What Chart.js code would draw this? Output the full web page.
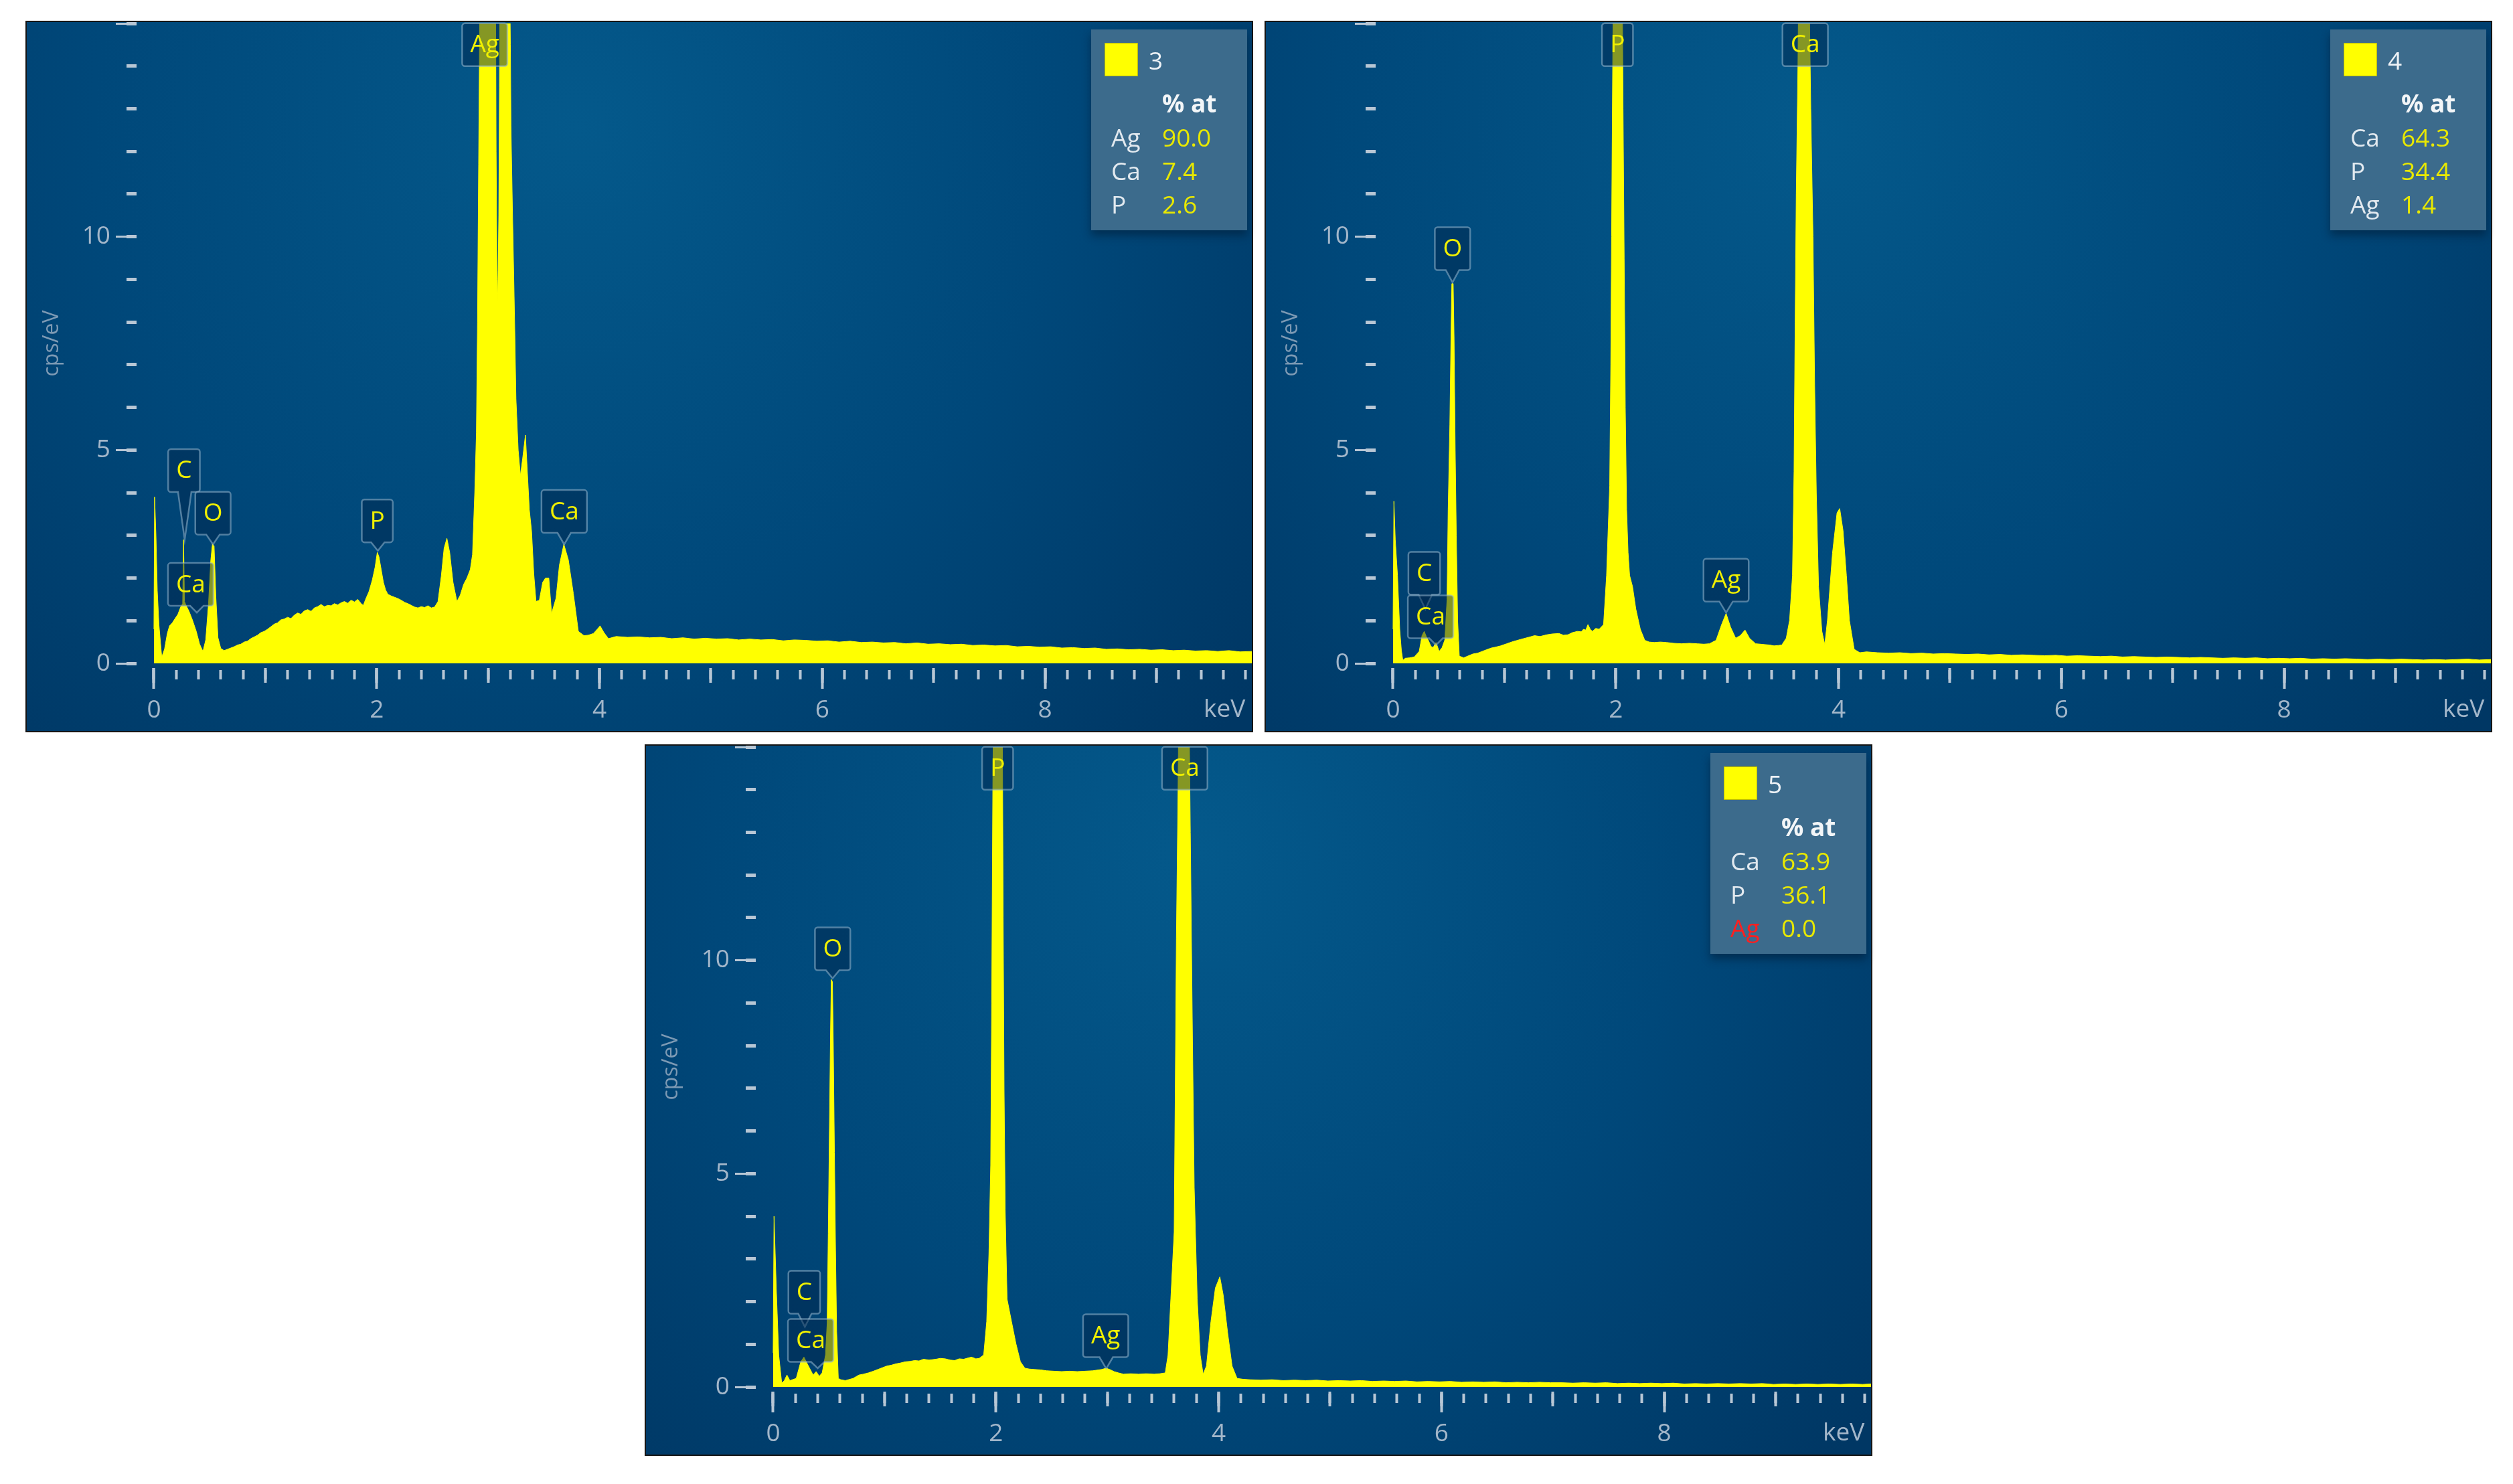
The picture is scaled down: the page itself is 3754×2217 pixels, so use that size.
<!DOCTYPE html>
<html>
<head>
<meta charset="utf-8">
<title>EDS spectra 3, 4, 5</title>
<script src="https://cdn.jsdelivr.net/npm/chart.js@4.4.1/dist/chart.umd.min.js"></script>
<style>
  body { margin: 0; width: 3754px; height: 2217px; background: #fff; position: relative; overflow: hidden; }
  .panel { position: absolute; width: 1830px; height: 1059px; border: 2px solid #151515; }
  .panel canvas { display: block; }
  .legend { position: absolute; left: 1590px; top: 11px; width: 233px; height: 300px; background: #3c6b8c;
    box-shadow: 0 8px 12px rgba(0, 20, 40, 0.45); font-family: 'Open Sans', sans-serif; color: #e2e9ef; }
  .legend div { position: absolute; font-size: 37px; line-height: 44px; white-space: nowrap; }
  .legend .swatch { left: 20px; top: 20px; width: 48px; height: 48px; background: #ffff00; border: 1px solid #b8b800; }
  .legend .id { left: 86px; top: 24px; color: #eef2f6; }
  .legend .head { left: 106px; top: 88px; font-weight: bold; color: #f3f6f8; }
  .legend .el { left: 30px; }
  .legend .val { left: 106px; color: #e8e800; }
</style>
</head>
<body>
<div class="panel" style="left:38px;top:31px"><canvas id="spec3" width="1830" height="1059"></canvas><div class="legend" id="legend3"></div></div>
<div class="panel" style="left:1889px;top:31px"><canvas id="spec4" width="1830" height="1059"></canvas><div class="legend" id="legend4"></div></div>
<div class="panel" style="left:963px;top:1112px"><canvas id="spec5" width="1830" height="1059"></canvas><div class="legend" id="legend5"></div></div>
<script>
const FONT = "'Open Sans', 'Noto Sans', sans-serif";
const YELLOW = '#ffff00';
const X_MIN = -0.156;
const X_MAX = 9.856;
const Y_MAX = 15;

// spectrum 3 (keV, cps/eV)
const kev3 = [
  0, 0.006, 0.018, 0.03, 0.045, 0.07, 0.095, 0.12, 0.14, 0.165,
  0.19, 0.215, 0.24, 0.258, 0.266, 0.274, 0.29, 0.315, 0.345, 0.38,
  0.41, 0.44, 0.465, 0.49, 0.51, 0.525, 0.54, 0.555, 0.575, 0.6,
  0.63, 0.66, 0.69, 0.72, 0.75, 0.78, 0.81, 0.84, 0.87, 0.9,
  0.93, 0.96, 0.99, 1.02, 1.05, 1.08, 1.11, 1.14, 1.17, 1.2,
  1.23, 1.26, 1.29, 1.32, 1.35, 1.38, 1.41, 1.44, 1.47, 1.5,
  1.53, 1.56, 1.59, 1.62, 1.65, 1.68, 1.71, 1.74, 1.77, 1.8,
  1.83, 1.86, 1.88, 1.9, 1.93, 1.96, 1.985, 2.005, 2.02, 2.04,
  2.06, 2.08, 2.1, 2.13, 2.16, 2.19, 2.22, 2.25, 2.28, 2.31,
  2.34, 2.37, 2.4, 2.43, 2.46, 2.49, 2.52, 2.55, 2.58, 2.605,
  2.63, 2.655, 2.685, 2.72, 2.75, 2.78, 2.81, 2.84, 2.86, 2.88,
  2.895, 2.905, 2.915, 2.93, 3.065, 3.072, 3.08, 3.085, 3.09, 3.096,
  3.102, 3.108, 3.19, 3.2, 3.205, 3.22, 3.23, 3.24, 3.25, 3.27,
  3.29, 3.31, 3.335, 3.35, 3.37, 3.39, 3.41, 3.43, 3.46, 3.49,
  3.515, 3.545, 3.57, 3.61, 3.64, 3.68, 3.72, 3.765, 3.81, 3.86,
  3.9, 3.945, 3.98, 4.005, 4.04, 4.08, 4.15, 4.25, 4.35, 4.45,
  4.55, 4.65, 4.75, 4.85, 4.95, 5.05, 5.15, 5.25, 5.35, 5.45,
  5.55, 5.65, 5.75, 5.85, 5.95, 6.05, 6.15, 6.25, 6.35, 6.45,
  6.55, 6.65, 6.75, 6.85, 6.95, 7.05, 7.15, 7.25, 7.35, 7.45,
  7.55, 7.65, 7.75, 7.85, 7.95, 8.05, 8.15, 8.25, 8.35, 8.45,
  8.55, 8.65, 8.75, 8.85, 8.95, 9.05, 9.15, 9.25, 9.35, 9.45,
  9.55, 9.65, 9.75, 9.86
];
const cps3 = [
  0.8, 3.9, 3.0, 1.7, 0.9, 0.15, 0.33, 0.7, 0.88, 0.95,
  1.05, 1.15, 1.32, 1.4, 2.9, 1.45, 1.35, 1.22, 1.02, 0.75,
  0.45, 0.28, 0.55, 1.4, 2.4, 2.8, 2.75, 1.6, 0.6, 0.35,
  0.3, 0.33, 0.36, 0.39, 0.43, 0.45, 0.5, 0.52, 0.58, 0.62,
  0.66, 0.72, 0.75, 0.8, 0.86, 0.92, 0.95, 1.02, 1.04, 1.08,
  1.05, 1.13, 1.18, 1.15, 1.23, 1.26, 1.22, 1.3, 1.33, 1.38,
  1.33, 1.36, 1.35, 1.4, 1.37, 1.42, 1.45, 1.41, 1.48, 1.44,
  1.5, 1.4, 1.36, 1.5, 1.68, 1.95, 2.25, 2.6, 2.5, 2.2,
  1.9, 1.72, 1.62, 1.58, 1.55, 1.52, 1.48, 1.43, 1.4, 1.36,
  1.32, 1.3, 1.33, 1.31, 1.35, 1.3, 1.32, 1.45, 2.05, 2.7,
  2.93, 2.6, 1.9, 1.45, 1.6, 1.85, 2.0, 2.2, 2.55, 4.0,
  5.4, 8.0, 11.7, 17, 17, 12.0, 9.0, 8.5, 9.2, 10.5,
  13.5, 17, 17, 14.5, 12.6, 10.4, 9.1, 7.7, 6.2, 5.0,
  4.4, 4.8, 5.35, 4.6, 3.6, 3.1, 2.1, 1.45, 1.48, 1.9,
  2.0, 2.0, 1.17, 1.53, 2.3, 2.79, 2.43, 1.64, 0.75, 0.65,
  0.66, 0.7, 0.8, 0.88, 0.72, 0.58, 0.63, 0.61, 0.62, 0.6,
  0.61, 0.58, 0.6, 0.57, 0.59, 0.57, 0.58, 0.55, 0.57, 0.55,
  0.56, 0.53, 0.55, 0.54, 0.52, 0.53, 0.5, 0.52, 0.49, 0.5,
  0.48, 0.49, 0.46, 0.48, 0.45, 0.46, 0.44, 0.45, 0.42, 0.43,
  0.41, 0.42, 0.39, 0.4, 0.38, 0.39, 0.36, 0.37, 0.35, 0.36,
  0.33, 0.34, 0.32, 0.33, 0.31, 0.32, 0.3, 0.31, 0.29, 0.3,
  0.28, 0.3, 0.27, 0.28
];

// spectrum 4
const kev4 = [
  0, 0.008, 0.02, 0.04, 0.06, 0.075, 0.088, 0.11, 0.15, 0.19,
  0.235, 0.26, 0.28, 0.3, 0.317, 0.34, 0.36, 0.386, 0.414, 0.44,
  0.465, 0.485, 0.495, 0.51, 0.52, 0.528, 0.54, 0.548, 0.558, 0.568,
  0.58, 0.595, 0.634, 0.68, 0.717, 0.76, 0.8, 0.84, 0.883, 0.92,
  0.966, 1.02, 1.076, 1.13, 1.186, 1.23, 1.27, 1.32, 1.38, 1.43,
  1.49, 1.53, 1.57, 1.61, 1.655, 1.69, 1.71, 1.73, 1.75, 1.77,
  1.79, 1.82, 1.85, 1.89, 1.917, 1.945, 1.955, 1.962, 1.972, 1.98,
  2.055, 2.065, 2.075, 2.085, 2.097, 2.11, 2.124, 2.15, 2.18, 2.22,
  2.26, 2.3, 2.345, 2.4, 2.455, 2.52, 2.59, 2.66, 2.73, 2.79,
  2.84, 2.9, 2.95, 2.99, 3.03, 3.076, 3.117, 3.16, 3.2, 3.255,
  3.3, 3.34, 3.38, 3.42, 3.46, 3.49, 3.53, 3.56, 3.586, 3.6,
  3.61, 3.62, 3.635, 3.645, 3.73, 3.75, 3.77, 3.785, 3.8, 3.82,
  3.85, 3.876, 3.9, 3.945, 3.986, 4.01, 4.04, 4.07, 4.097, 4.14,
  4.19, 4.25, 4.35, 4.45, 4.55, 4.65, 4.75, 4.85, 4.95, 5.05,
  5.15, 5.25, 5.35, 5.45, 5.55, 5.65, 5.75, 5.85, 5.95, 6.05,
  6.15, 6.25, 6.35, 6.45, 6.55, 6.65, 6.75, 6.85, 6.95, 7.05,
  7.15, 7.25, 7.35, 7.45, 7.55, 7.65, 7.75, 7.85, 7.95, 8.05,
  8.15, 8.25, 8.35, 8.45, 8.55, 8.65, 8.75, 8.85, 8.95, 9.05,
  9.15, 9.25, 9.35, 9.45, 9.55, 9.65, 9.75, 9.86
];
const cps4 = [
  0.8, 3.8, 2.9, 2.06, 0.8, 0.3, 0.07, 0.12, 0.13, 0.15,
  0.28, 0.65, 0.75, 0.62, 0.54, 0.4, 0.37, 0.49, 0.28, 0.37,
  0.55, 1.5, 3.6, 5.6, 7.6, 8.9, 8.9, 7.6, 5.0, 3.0,
  1.0, 0.17, 0.13, 0.18, 0.22, 0.24, 0.28, 0.32, 0.36, 0.38,
  0.41, 0.46, 0.51, 0.55, 0.59, 0.62, 0.65, 0.63, 0.67, 0.69,
  0.7, 0.66, 0.67, 0.72, 0.75, 0.74, 0.8, 0.78, 0.91, 0.8,
  0.75, 0.82, 0.8, 0.91, 2.06, 4.16, 7.0, 10.0, 14.0, 17,
  17, 13, 9.5, 6.0, 3.6, 2.6, 2.06, 1.8, 1.27, 0.8,
  0.54, 0.5, 0.49, 0.5, 0.49, 0.47, 0.46, 0.47, 0.46, 0.45,
  0.46, 0.54, 0.91, 1.17, 0.85, 0.59, 0.65, 0.78, 0.59, 0.46,
  0.45, 0.44, 0.43, 0.41, 0.42, 0.43, 0.59, 1.01, 2.06, 4.5,
  8.0, 11.0, 14.0, 17, 17, 13, 10, 6.5, 4.0, 1.8,
  0.75, 0.44, 1.01, 2.58, 3.53, 3.63, 3.11, 2.06, 1.01, 0.33,
  0.25, 0.27, 0.25, 0.24, 0.25, 0.23, 0.24, 0.22, 0.23, 0.22,
  0.21, 0.22, 0.2, 0.21, 0.19, 0.2, 0.19, 0.18, 0.19, 0.17,
  0.18, 0.17, 0.16, 0.17, 0.15, 0.16, 0.15, 0.14, 0.15, 0.14,
  0.13, 0.14, 0.13, 0.12, 0.13, 0.12, 0.13, 0.11, 0.12, 0.11,
  0.12, 0.1, 0.11, 0.1, 0.11, 0.1, 0.09, 0.1, 0.09, 0.1,
  0.09, 0.08, 0.09, 0.08, 0.09, 0.1, 0.08, 0.09
];

// spectrum 5
const kev5 = [
  0, 0.008, 0.028, 0.05, 0.077, 0.1, 0.124, 0.15, 0.207, 0.248,
  0.276, 0.317, 0.359, 0.386, 0.414, 0.44, 0.47, 0.485, 0.495, 0.505,
  0.515, 0.522, 0.532, 0.54, 0.55, 0.56, 0.57, 0.585, 0.607, 0.648,
  0.717, 0.77, 0.81, 0.855, 0.9, 0.94, 0.98, 1.02, 1.06, 1.1,
  1.14, 1.186, 1.23, 1.27, 1.31, 1.35, 1.4, 1.46, 1.5, 1.545,
  1.59, 1.63, 1.67, 1.71, 1.75, 1.78, 1.82, 1.85, 1.89, 1.917,
  1.937, 1.953, 1.962, 1.972, 1.98, 2.055, 2.065, 2.073, 2.083, 2.1,
  2.14, 2.18, 2.22, 2.26, 2.3, 2.345, 2.4, 2.455, 2.52, 2.59,
  2.66, 2.73, 2.8, 2.87, 2.95, 2.99, 3.03, 3.06, 3.1, 3.145,
  3.21, 3.28, 3.35, 3.42, 3.47, 3.52, 3.545, 3.57, 3.6, 3.61,
  3.62, 3.635, 3.645, 3.73, 3.745, 3.765, 3.78, 3.807, 3.834, 3.86,
  3.89, 3.93, 3.97, 4.01, 4.04, 4.08, 4.12, 4.165, 4.22, 4.28,
  4.38, 4.48, 4.58, 4.68, 4.78, 4.88, 4.98, 5.08, 5.18, 5.28,
  5.38, 5.48, 5.58, 5.68, 5.78, 5.88, 5.98, 6.08, 6.18, 6.28,
  6.38, 6.48, 6.58, 6.68, 6.78, 6.88, 6.98, 7.08, 7.18, 7.28,
  7.38, 7.48, 7.58, 7.68, 7.78, 7.88, 7.98, 8.08, 8.18, 8.28,
  8.38, 8.48, 8.58, 8.68, 8.78, 8.88, 8.98, 9.08, 9.18, 9.28,
  9.38, 9.48, 9.58, 9.68, 9.78, 9.86
];
const cps5 = [
  0.8, 4.0, 2.32, 0.75, 0.09, 0.15, 0.28, 0.15, 0.2, 0.59,
  0.7, 0.49, 0.28, 0.36, 0.25, 0.33, 0.75, 1.5, 3.6, 6.0,
  8.3, 9.55, 9.5, 8.0, 5.5, 3.2, 1.3, 0.2, 0.17, 0.15,
  0.2, 0.28, 0.3, 0.33, 0.37, 0.41, 0.45, 0.49, 0.51, 0.54,
  0.56, 0.59, 0.6, 0.62, 0.61, 0.65, 0.63, 0.65, 0.67, 0.66,
  0.63, 0.62, 0.66, 0.65, 0.68, 0.7, 0.66, 0.67, 0.75, 1.53,
  3.11, 5.2, 9.0, 14.0, 17, 17, 11, 7, 4.16, 2.06,
  1.53, 1.01, 0.59, 0.44, 0.42, 0.41, 0.4, 0.38, 0.37, 0.36,
  0.37, 0.36, 0.37, 0.38, 0.41, 0.44, 0.4, 0.36, 0.33, 0.3,
  0.31, 0.3, 0.31, 0.3, 0.31, 0.33, 0.75, 2.06, 3.63, 7.0,
  10.5, 14.0, 17, 17, 13, 8, 4.68, 2.06, 0.75, 0.3,
  0.49, 1.53, 2.32, 2.58, 2.16, 1.27, 0.49, 0.2, 0.18, 0.17,
  0.16, 0.17, 0.15, 0.16, 0.15, 0.16, 0.14, 0.15, 0.14, 0.15,
  0.13, 0.14, 0.13, 0.14, 0.12, 0.13, 0.12, 0.13, 0.11, 0.12,
  0.11, 0.12, 0.1, 0.11, 0.1, 0.11, 0.1, 0.1, 0.09, 0.1,
  0.09, 0.1, 0.08, 0.09, 0.08, 0.09, 0.08, 0.09, 0.07, 0.08,
  0.07, 0.08, 0.07, 0.08, 0.07, 0.08, 0.06, 0.07, 0.06, 0.07,
  0.06, 0.07, 0.06, 0.07, 0.06, 0.07
];

// peak markers: box centre (keV, cps/eV) and pointer tip
const peaks3 = ['C', 'O', 'Ca', 'P', 'Ca', 'Ag'];
const peaks3Kev = [0.27, 0.53, 0.33, 2.005, 3.683, 2.97];
const peaks3Level = [4.52, 3.52, 1.85, 3.34, 3.56, 14.5];
const peaks3TipKev = [0.276, 0.53, 0.385, 2.01, 3.683, null];
const peaks3TipLevel = [2.9, 2.79, 1.19, 2.64, 2.79, null];

const peaks4 = ['P', 'Ca', 'O', 'C', 'Ca', 'Ag'];
const peaks4Kev = [2.015, 3.7, 0.534, 0.28, 0.337, 2.99];
const peaks4Level = [14.5, 14.5, 9.72, 2.11, 1.09, 1.95];
const peaks4TipKev = [null, null, 0.534, 0.29, 0.386, 2.99];
const peaks4TipLevel = [null, null, 8.93, 1.27, 0.43, 1.19];

const peaks5 = ['P', 'Ca', 'O', 'C', 'Ca', 'Ag'];
const peaks5Kev = [2.015, 3.695, 0.534, 0.279, 0.337, 2.985];
const peaks5Level = [14.5, 14.5, 10.27, 2.22, 1.09, 1.2];
const peaks5TipKev = [null, null, 0.534, 0.285, 0.4, 2.99];
const peaks5TipLevel = [null, null, 9.58, 1.41, 0.44, 0.43];

// quantification, % at
const legend3Els = ['Ag', 'Ca', 'P'];
const legend3Pct = [90.0, 7.4, 2.6];
const legend4Els = ['Ca', 'P', 'Ag'];
const legend4Pct = [64.3, 34.4, 1.4];
const legend5Els = ['Ca', 'P', 'Ag'];
const legend5Pct = [63.9, 36.1, 0.0];

const panelBackground = {
  id: 'panelBackground',
  beforeDraw(chart) {
    const { ctx, width, height } = chart;
    const g = ctx.createRadialGradient(width * 0.45, height * 0.15, 0, width * 0.45, height * 0.15, width * 0.72);
    g.addColorStop(0, '#04598b');
    g.addColorStop(0.55, '#00487a');
    g.addColorStop(1, '#003764');
    ctx.save();
    ctx.fillStyle = g;
    ctx.fillRect(0, 0, width, height);
    ctx.restore();
  }
};

function peakLabelPlugin(labels) {
  return {
    id: 'peakLabels',
    afterDatasetsDraw(chart) {
      const { ctx, scales: { x, y } } = chart;
      ctx.save();
      ctx.font = `37px ${FONT}`;
      ctx.textAlign = 'center';
      ctx.textBaseline = 'middle';
      labels.forEach(l => {
        const cx = x.getPixelForValue(l.kev);
        const cy = y.getPixelForValue(l.level);
        const w = ctx.measureText(l.name).width + 24;
        const h = 64;
        const left = cx - w / 2, right = cx + w / 2, top = cy - h / 2, bottom = cy + h / 2;
        const r = 4, hw = 10;
        ctx.beginPath();
        ctx.moveTo(left + r, top);
        ctx.arcTo(right, top, right, bottom, r);
        ctx.arcTo(right, bottom, left, bottom, r);
        if (l.tipKev != null) {
          const tx = x.getPixelForValue(l.tipKev);
          const ty = y.getPixelForValue(l.tipLevel);
          const bx = Math.min(Math.max(tx, left + hw + r), right - hw - r);
          ctx.lineTo(bx + hw, bottom);
          ctx.lineTo(tx, ty);
          ctx.lineTo(bx - hw, bottom);
        }
        ctx.arcTo(left, bottom, left, top, r);
        ctx.arcTo(left, top, right, top, r);
        ctx.closePath();
        ctx.fillStyle = 'rgba(0, 38, 76, 0.48)';
        ctx.fill();
        ctx.lineWidth = 2.5;
        ctx.strokeStyle = 'rgba(150, 182, 205, 0.55)';
        ctx.stroke();
        ctx.fillStyle = '#f0f000';
        ctx.fillText(l.name, cx, cy + 1);
      });
      ctx.restore();
    }
  };
}

function noPadding(scale) {
  scale.paddingLeft = 0;
  scale.paddingRight = 0;
  scale.paddingTop = 0;
  scale.paddingBottom = 0;
}

function xTicks(step, len, dash, extra) {
  return Object.assign({
    type: 'linear', axis: 'x', position: 'bottom', min: X_MIN, max: X_MAX, weight: 0,
    border: { display: false },
    grid: { drawOnChartArea: false, tickLength: len, tickWidth: 4, tickColor: '#b8c7d5', tickBorderDash: dash },
    ticks: { stepSize: step, display: false, autoSkip: false, includeBounds: false, maxTicksLimit: 200 },
    afterFit: s => { s.height = 0; noPadding(s); }
  }, extra);
}

function spectrumChart(id, kev, cps, names, boxKev, boxLevel, tipKev, tipLevel) {
  const points = kev.map((x, i) => ({ x, y: cps[i] }));
  const labels = names.map((name, i) => ({
    name, kev: boxKev[i], level: boxLevel[i], tipKev: tipKev[i], tipLevel: tipLevel[i]
  }));
  const tickFont = { family: FONT, size: 37 };
  return new Chart(document.getElementById(id), {
    type: 'line',
    data: {
      datasets: [{
        data: points,
        xAxisID: 'x',
        yAxisID: 'y',
        borderColor: YELLOW,
        backgroundColor: YELLOW,
        borderWidth: 1,
        fill: 'origin',
        pointRadius: 0,
        tension: 0,
      }]
    },
    options: {
      responsive: false,
      animation: false,
      events: [],
      layout: { padding: { top: 2, left: 0, right: 0, bottom: 0 } },
      plugins: { legend: { display: false }, tooltip: { enabled: false } },
      scales: {
        x: xTicks(2, 38, [0, 7, 31, 200], {
          weight: 1,
          ticks: { stepSize: 2, display: true, autoSkip: false, includeBounds: false, maxTicksLimit: 200,
            padding: 10, color: '#a3b7ca', font: tickFont, maxRotation: 0 },
          title: { display: true, text: 'keV ', align: 'end', color: '#a3b7ca', font: tickFont,
            padding: { top: 0, bottom: 9 } },
          afterFit: s => { s.height = 101; noPadding(s); }
        }),
        xm: xTicks(1, 29, [0, 7, 22, 200]),
        xs: xTicks(0.2, 24, [0, 10, 14, 200]),
        y: {
          type: 'linear', position: 'left', min: 0, max: Y_MAX, weight: 1,
          border: { display: false },
          grid: { drawOnChartArea: false, tickLength: 31, tickWidth: 3, tickColor: '#b8c7d5' },
          ticks: { stepSize: 5, padding: 8, color: '#a3b7ca', font: tickFont,
            callback: v => (v === Y_MAX ? '' : v) },
          title: { display: true, text: 'cps/eV', color: '#7d9ab4', font: { family: FONT, size: 32 },
            padding: { top: 19, bottom: 0 } },
          afterFit: s => { s.width = 164; noPadding(s); }
        },
        ym: {
          type: 'linear', axis: 'y', position: 'left', min: 0, max: Y_MAX, weight: 0,
          border: { display: false },
          grid: { drawOnChartArea: false, tickLength: 15, tickWidth: 5, tickColor: '#b8c7d5' },
          ticks: { stepSize: 1, display: false },
          afterFit: s => { s.width = 0; noPadding(s); }
        }
      }
    },
    plugins: [panelBackground, peakLabelPlugin(labels)]
  });
}

function renderLegend(id, num, els, pct) {
  const rows = els.map((el, i) => `
    <div class="el" style="top:${139 + i * 50}px;${pct[i] === 0 ? 'color:#ff1f1f' : ''}">${el}</div>
    <div class="val" style="top:${139 + i * 50}px">${pct[i].toFixed(1)}</div>`).join('');
  document.getElementById(id).innerHTML = `
    <div class="swatch"></div>
    <div class="id">${num}</div>
    <div class="head">% at</div>${rows}`;
}

spectrumChart('spec3', kev3, cps3, peaks3, peaks3Kev, peaks3Level, peaks3TipKev, peaks3TipLevel);
spectrumChart('spec4', kev4, cps4, peaks4, peaks4Kev, peaks4Level, peaks4TipKev, peaks4TipLevel);
spectrumChart('spec5', kev5, cps5, peaks5, peaks5Kev, peaks5Level, peaks5TipKev, peaks5TipLevel);

renderLegend('legend3', '3', legend3Els, legend3Pct);
renderLegend('legend4', '4', legend4Els, legend4Pct);
renderLegend('legend5', '5', legend5Els, legend5Pct);
</script>
</body>
</html>
